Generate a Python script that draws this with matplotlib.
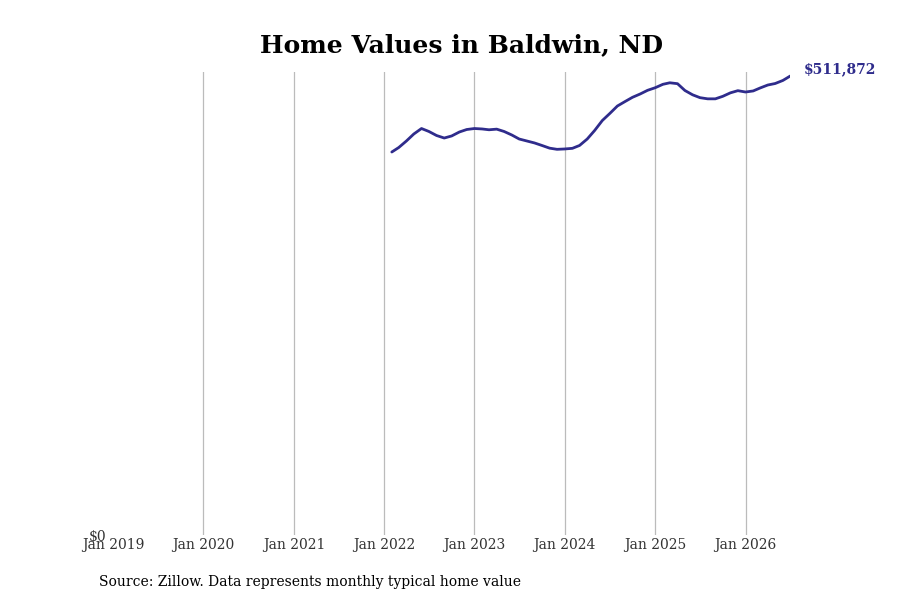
import matplotlib
matplotlib.use("Agg")
import matplotlib.pyplot as plt
import pandas as pd

dates = pd.date_range("2022-02-01", "2026-07-01", freq="MS")
values = [
    427100, 432100, 439400, 447200, 453300, 450000, 445500, 442700, 445000, 449400, 452200,
    453300, 452800, 451900, 452600, 450000, 446100, 441600, 439400, 437200, 434400, 431400, 430100,
    430500, 431200, 434400, 441600, 451100, 462200, 470000, 478400, 483400, 488100, 491800, 495900,
    498800, 502600, 504300, 503300, 495700, 490900, 487700, 486400, 486400, 489200, 493100, 495500,
    494000, 495200, 498500, 501800, 503500, 506900, 511872,
]
tick_years = list(range(2019, 2027))
title = "Home Values in Baldwin, ND"
source = "Source: Zillow. Data represents monthly typical home value"
color = "#2f2c8c"

plt.rcParams["font.family"] = ["DejaVu Serif"]
fig = plt.figure(figsize=(9, 6), dpi=100)
ax = fig.add_axes([0.1256, 0.1083, 0.7525, 0.7717])

ax.plot(dates, values, color=color, lw=2.0, solid_capstyle="round")
ax.set_xlim(pd.Timestamp("2019-01-01"), dates[-1])
ax.set_ylim(0, max(values) * 1.0087)

ticks = [pd.Timestamp(f"{y}-01-01") for y in tick_years]
ax.set_xticks(ticks)
ax.set_xticklabels([f"Jan {y}" for y in tick_years], fontsize=10, color="#333333")
ax.set_yticks([0])
ax.set_yticklabels(["$0"], fontsize=10, color="#333333")
ax.tick_params(axis="both", length=0)
ax.tick_params(axis="x", pad=2)
ax.tick_params(axis="y", pad=5)
ax.grid(False)
for t in ticks[1:]:
    ax.axvline(t, color="#bbbbbb", lw=0.9, zorder=0)
for s in ax.spines.values():
    s.set_visible(False)

ax.annotate(f"${values[-1]:,}", xy=(dates[-1], values[-1]), xytext=(10, 0),
            textcoords="offset points", color=color, fontsize=10, fontweight="bold",
            va="bottom", ha="left", annotation_clip=False)

fig.text(0.513, 0.925, title, ha="center", va="center", fontsize=18, fontweight="bold")
fig.text(0.11, 0.03, source, ha="left", va="center", fontsize=10)

fig.savefig("out.png", dpi=100)
